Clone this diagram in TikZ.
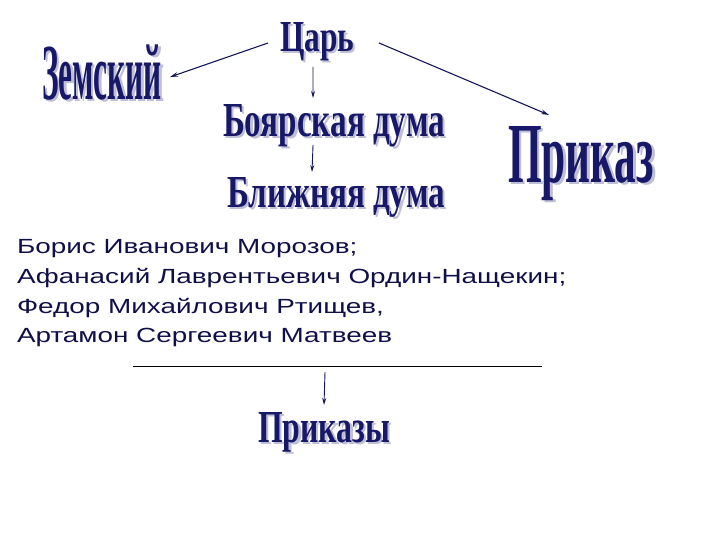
\documentclass[tikz,border=0pt]{standalone}
\usepackage{fontspec}
\setmainfont{Liberation Sans}
\newfontfamily\wafont{Liberation Serif}
\usetikzlibrary{arrows.meta}
\definecolor{wanavy}{RGB}{24,24,104}
\definecolor{washadow}{RGB}{190,190,212}
\definecolor{txtnavy}{RGB}{16,16,72}
\definecolor{arrnavy}{RGB}{22,22,92}
\newcommand{\wabox}[3]{\resizebox{#1}{#2}{\raisebox{0pt}[\fontcharht\font`\H][0pt]{#3}}}
\newcommand{\bodyt}[1]{\scalebox{1.36}[1]{#1}}
\tikzset{
  wa/.style={inner sep=0pt, outer sep=0pt, anchor=south west, text=wanavy, font=\wafont\bfseries},
  wash/.style={wa, text=washadow},
  body/.style={inner sep=0pt, outer sep=0pt, anchor=base west, text=txtnavy, font=\fontsize{20.5}{25}\selectfont},
  arr/.style={draw=arrnavy, line width=1.1pt, -{Stealth[length=8pt,width=4.5pt]}},
  varr/.style={draw=arrnavy, line width=0.9pt, -{Stealth[length=7pt,width=4pt]}},
}
% #1 name, #2 x, #3 baseline y, #4 width, #5 cap height, #6 text
\newcommand{\wanode}[6]{%
  \node[wash] (#1s) at (#2+2.5,#3+2) {\wabox{#4}{#5}{#6}};
  \node[wa] (#1) at (#2,#3) {\wabox{#4}{#5}{#6}};
}
\begin{document}
\begin{tikzpicture}[x=1pt,y=-1pt]
\useasboundingbox[fill=white] (0,0) rectangle (720,540);

\wanode{tsar}{280}{52}{74pt}{29pt}{Царь}
\wanode{zem}{42}{100}{120pt}{52pt}{Земский}
\wanode{boyar}{223}{137}{222pt}{32pt}{Боярская дума}
\wanode{blizh}{227}{208}{218pt}{30pt}{Ближняя дума}
\wanode{prikaz}{508}{183}{146pt}{56pt}{Приказ}
\wanode{prikazy}{258}{442}{132pt}{30pt}{Приказы}

\node[body] (l1) at (17,254) {\bodyt{Борис Иванович Морозов;}};
\node[body] (l2) at (17,283.5) {\bodyt{Афанасий Лаврентьевич Ордин-Нащекин;}};
\node[body] (l3) at (17,313) {\bodyt{Федор Михайлович Ртищев,}};
\node[body] (l4) at (17,342) {\bodyt{Артамон Сергеевич Матвеев}};

\coordinate (ulL) at (133,366);
\coordinate (ulR) at (542,366);
\coordinate (ulA) at (325,372);
\draw[black, line width=0.9pt] (ulL) -- (ulR);

\draw[arr] ([shift={(-12,5.5)}]tsar.west) -- ([shift={(8,3)}]zem.east);
\draw[arr] ([shift={(25,5.5)}]tsar.east) -- ([shift={(-32,-12)}]prikaz.north);
\draw[varr] ([shift={(-4,15)}]tsar.south) -- ([shift={(-21,-7)}]boyar.north);
\draw[varr] ([shift={(-21,8)}]boyar.south) -- ([shift={(-24,-6)}]blizh.north);
\draw[varr] (ulA) -- ([shift={(0,-7)}]prikazy.north);
\end{tikzpicture}
\end{document}
